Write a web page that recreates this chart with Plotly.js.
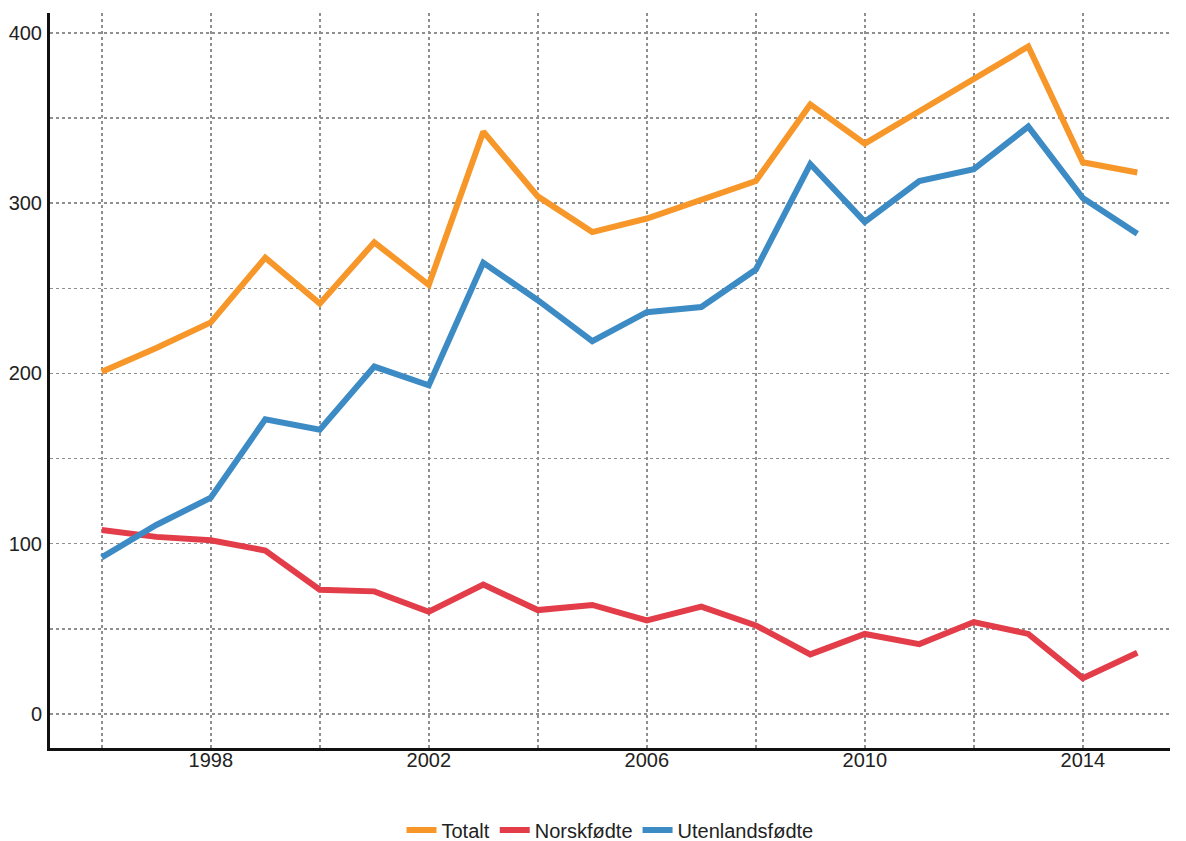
<!DOCTYPE html>
<html><head><meta charset="utf-8">
<script src="https://cdn.plot.ly/plotly-3.0.1.min.js"></script>
<style>body{margin:0;background:#fff}#c{width:1186px;height:841px}</style>
</head><body><div id="c"></div>
<script>
const years = [1996,1997,1998,1999,2000,2001,2002,2003,2004,2005,2006,2007,2008,2009,2010,2011,2012,2013,2014,2015];
const totalt = [201,215,230,268,241,277,252,342,304,283,291,302,313,358,335,354,373,392,324,318];
const norskfodte = [108,104,102,96,73,72,60,76,61,64,55,63,52,35,47,41,54,47,21,36];
const utenlandsfodte = [92,111,127,173,167,204,193,265,243,219,236,239,261,323,289,313,320,345,303,282];
const names = ["Totalt","Norskfødte","Utenlandsfødte"];
const colors = ["#F7972A","#E23D48","#3D8BC5"];
const series = [totalt, norskfodte, utenlandsfodte];
const traces = series.map((s,i)=>({x:years,y:s,name:names[i],type:'scatter',mode:'lines',
  line:{color:colors[i],width:6}}));
const gridc = '#8f8f8f';
Plotly.newPlot('c', traces, {
  width:1186,height:841,
  margin:{l:50,r:16,t:13,b:93,autoexpand:false},
  paper_bgcolor:'#fff',plot_bgcolor:'#fff',
  font:{family:'Liberation Sans, Arial, sans-serif',color:'#222',size:20},
  xaxis:{range:[1995.05,2015.6],tick0:1998,dtick:4,showgrid:true,gridcolor:gridc,griddash:'dot',gridwidth:1.5,
    minor:{tick0:1996,dtick:2,showgrid:true,gridcolor:gridc,griddash:'dot',gridwidth:1.5},
    tickfont:{size:20,color:'#222'},
    showline:true,linecolor:'#111',linewidth:3,zeroline:false,ticks:'',ticklabelstandoff:-8},
  yaxis:{range:[-20,411.7],tick0:0,dtick:100,showgrid:true,gridcolor:gridc,griddash:'dot',gridwidth:1.5,
    minor:{dtick:50,showgrid:true,gridcolor:gridc,griddash:'dot',gridwidth:1.5},
    tickfont:{size:20,color:'#222'},
    showline:true,linecolor:'#111',linewidth:3,zeroline:false,ticks:'',ticklabelstandoff:1},
  showlegend:true,
  legend:{orientation:'h',x:0.5,xanchor:'center',yref:'container',y:0.013,yanchor:'middle',font:{size:20,color:'#222'},itemwidth:30,tracegroupgap:0}
},{displayModeBar:false,staticPlot:true});
</script></body></html>
